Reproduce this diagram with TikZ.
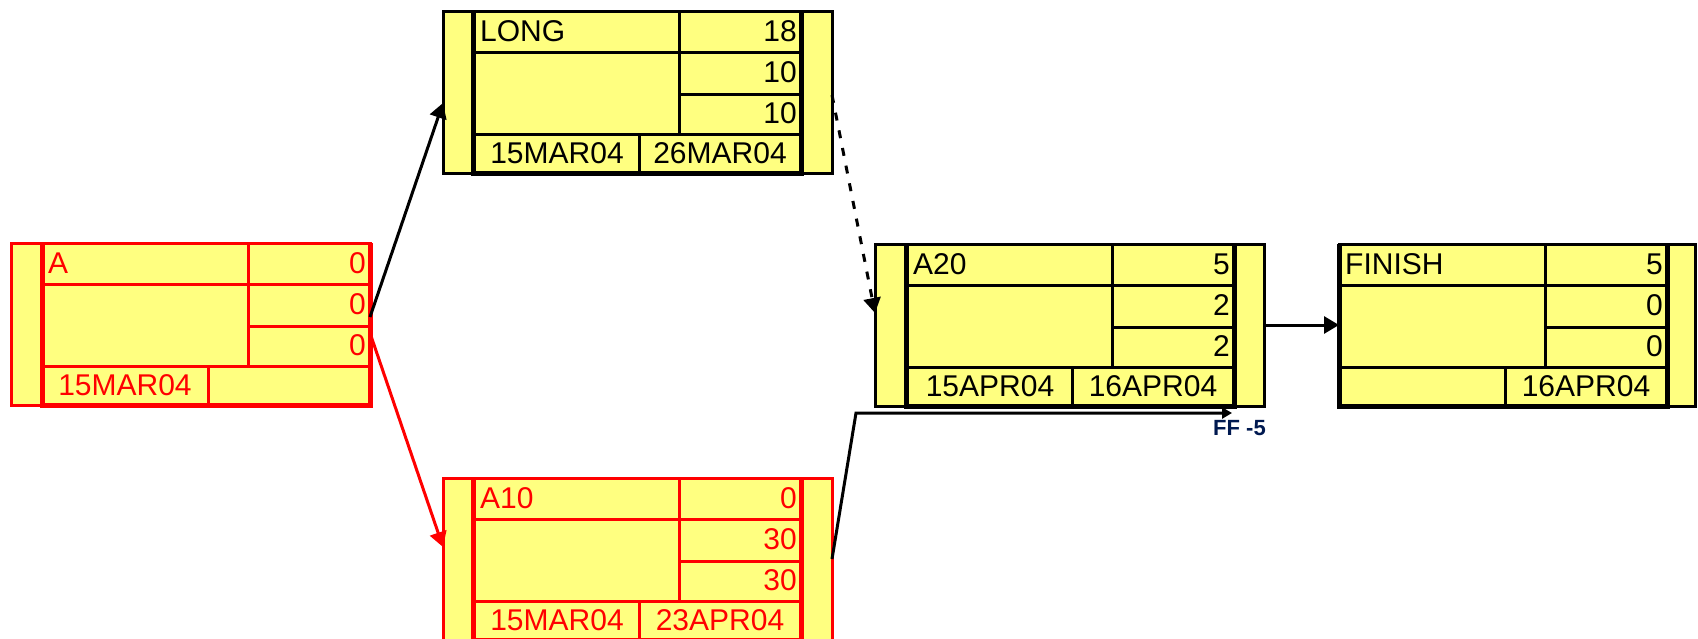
\documentclass[tikz,border=0pt]{standalone}
\usepackage{fontspec}
\setmainfont{Liberation Sans}
\usetikzlibrary{arrows.meta}
\definecolor{pyellow}{RGB}{255,255,128}
\definecolor{pred}{RGB}{255,0,0}
\definecolor{ffblue}{RGB}{0,25,80}
\tikzset{
  obox/.style={rectangle, fill=pyellow, line width=3pt, minimum height=162pt, inner sep=0pt, outer sep=0pt},
  gridline/.style={line width=3pt},
  thickline/.style={line width=5pt},
  lbl/.style={font=\fontsize{30}{36}\selectfont, inner sep=0pt},
  fflbl/.style={font=\bfseries\fontsize{22}{26}\selectfont, inner sep=0pt, text=ffblue},
  conn/.style={line width=3pt, -{Triangle[length=15pt,width=17pt]}},
  dashconn/.style={conn, dash pattern=on 8pt off 10pt},
}
\newcommand\pgrid[3]{%
  \begin{scope}[shift={(#1,#2)}, color=#3]
    \draw[gridline] (0,41) -- (328,41);
    \draw[gridline] (206,83) -- (328,83);
    \draw[gridline] (0,123) -- (328,123);
    \draw[gridline] (206,0) -- (206,123);
    \draw[gridline] (166,123) -- (166,162);
    \draw[thickline] (0,0) -- (0,162) -- (328,162) -- (328,0);
  \end{scope}}
\begin{document}
\begin{tikzpicture}[x=1pt,y=-1pt]
\useasboundingbox (0,0) rectangle (1698,638);
\fill[white] (0,0) rectangle (1698,638);

% ---- A ----
\node[obox, draw=pred, minimum width=359pt, anchor=north west] (A) at (11,243) {};
\pgrid{42}{243}{pred}
\begin{scope}[shift={(42,243)}, color=pred]
  \node[lbl, anchor=base west] (A-name) at (6,30) {A};
  \node[lbl, anchor=base east] (A-v1) at (324,30) {0};
  \node[lbl, anchor=base east] (A-v2) at (324,71) {0};
  \node[lbl, anchor=base east] (A-v3) at (324,112) {0};
  \node[lbl, anchor=base] (A-d1) at (83,152) {15MAR04};
\end{scope}

% ---- LONG ----
\node[obox, draw=black, minimum width=389pt, anchor=north west] (LONG) at (443,11) {};
\pgrid{473}{11}{black}
\begin{scope}[shift={(473,11)}, color=black]
  \node[lbl, anchor=base west] (LONG-name) at (7,30) {LONG};
  \node[lbl, anchor=base east] (LONG-v1) at (324,30) {18};
  \node[lbl, anchor=base east] (LONG-v2) at (324,71) {10};
  \node[lbl, anchor=base east] (LONG-v3) at (324,112) {10};
  \node[lbl, anchor=base] (LONG-d1) at (84,152) {15MAR04};
  \node[lbl, anchor=base] (LONG-d2) at (247,152) {26MAR04};
\end{scope}

% ---- A10 ----
\node[obox, draw=pred, minimum width=389pt, anchor=north west] (A10) at (443,478) {};
\pgrid{473}{478}{pred}
\begin{scope}[shift={(473,478)}, color=pred]
  \node[lbl, anchor=base west] (A10-name) at (7,30) {A10};
  \node[lbl, anchor=base east] (A10-v1) at (324,30) {0};
  \node[lbl, anchor=base east] (A10-v2) at (324,71) {30};
  \node[lbl, anchor=base east] (A10-v3) at (324,112) {30};
  \node[lbl, anchor=base] (A10-d1) at (84,152) {15MAR04};
  \node[lbl, anchor=base] (A10-d2) at (247,152) {23APR04};
\end{scope}

% ---- A20 ----
\node[obox, draw=black, minimum width=389pt, anchor=north west] (A20) at (875,244) {};
\pgrid{906}{244}{black}
\begin{scope}[shift={(906,244)}, color=black]
  \node[lbl, anchor=base west] (A20-name) at (7,30) {A20};
  \node[lbl, anchor=base east] (A20-v1) at (324,30) {5};
  \node[lbl, anchor=base east] (A20-v2) at (324,71) {2};
  \node[lbl, anchor=base east] (A20-v3) at (324,112) {2};
  \node[lbl, anchor=base] (A20-d1) at (84,152) {15APR04};
  \node[lbl, anchor=base] (A20-d2) at (247,152) {16APR04};
\end{scope}

% ---- FINISH ----
\node[obox, draw=black, minimum width=356pt, anchor=north west] (FINISH) at (1339,244) {};
\pgrid{1339}{244}{black}
\begin{scope}[shift={(1339,244)}, color=black]
  \node[lbl, anchor=base west] (FINISH-name) at (6,30) {FINISH};
  \node[lbl, anchor=base east] (FINISH-v1) at (324,30) {5};
  \node[lbl, anchor=base east] (FINISH-v2) at (324,71) {0};
  \node[lbl, anchor=base east] (FINISH-v3) at (324,112) {0};
  \node[lbl, anchor=base] (FINISH-d2) at (247,152) {16APR04};
\end{scope}

% ---- connectors ----
\draw[conn] ([yshift=7pt]A.east) -- ([yshift=-11pt]LONG.west);
\draw[conn, pred] ([yshift=-9pt]A.east) -- ([yshift=12pt]A10.west);
\draw[dashconn] ([yshift=-3pt]LONG.east) -- ([yshift=12pt]A20.west);
\coordinate (k1) at (856,413);
\coordinate (k2) at (1232,413);
\draw[line width=3pt, -{Triangle[length=10pt,width=11pt]}] (A10.east) -- (k1) -- (k2);
\draw[conn] (A20.east) -- (FINISH.west);
\node[fflbl, anchor=base west] (ff) at (1213,435) {FF -5};
\end{tikzpicture}
\end{document}
